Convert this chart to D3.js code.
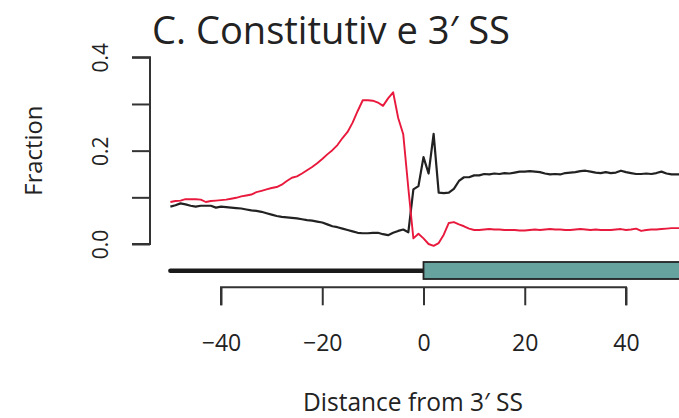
<!DOCTYPE html>
<html>
<head>
<meta charset="utf-8">
<script src="https://cdn.jsdelivr.net/npm/d3@7"></script>
<style>
  body { margin: 0; background: #fff; }
  svg { display: block; font-family: "Open Sans", "Noto Sans", sans-serif; }
</style>
</head>
<body>
<svg id="chart"></svg>
<script>
// positions relative to the 3' splice site
const positions = d3.range(-50, 52);

// black series (-50 .. 51)
const blackValues = [
  0.080, 0.083, 0.087, 0.085, 0.082, 0.080, 0.082, 0.082, 0.082, 0.078,
  0.080, 0.079, 0.078, 0.077, 0.076, 0.074, 0.072, 0.071, 0.069, 0.066,
  0.063, 0.060, 0.058, 0.057, 0.056, 0.055, 0.053, 0.051, 0.050, 0.048,
  0.046, 0.042, 0.038, 0.036, 0.033, 0.030, 0.027, 0.024, 0.023, 0.023,
  0.024, 0.024, 0.021, 0.019, 0.024, 0.028, 0.031, 0.025, 0.117, 0.124,
  0.186, 0.151, 0.236, 0.110, 0.109, 0.110, 0.118, 0.135, 0.143, 0.143,
  0.147, 0.147, 0.150, 0.149, 0.151, 0.150, 0.152, 0.151, 0.153, 0.155,
  0.155, 0.156, 0.155, 0.154, 0.151, 0.149, 0.150, 0.149, 0.152, 0.153,
  0.154, 0.156, 0.157, 0.155, 0.153, 0.152, 0.154, 0.152, 0.153, 0.157,
  0.154, 0.152, 0.150, 0.150, 0.151, 0.150, 0.152, 0.155, 0.151, 0.149,
  0.149, 0.149
];

// red series (-50 .. 51)
const redValues = [
  0.090, 0.092, 0.093, 0.096, 0.096, 0.096, 0.095, 0.090, 0.092, 0.093,
  0.094, 0.095, 0.097, 0.099, 0.102, 0.104, 0.106, 0.111, 0.114, 0.117,
  0.120, 0.122, 0.127, 0.135, 0.142, 0.145, 0.151, 0.158, 0.165, 0.173,
  0.182, 0.192, 0.201, 0.212, 0.227, 0.240, 0.260, 0.285, 0.308, 0.308,
  0.307, 0.303, 0.296, 0.312, 0.325, 0.270, 0.235, 0.120, 0.012, 0.022,
  0.012, 0.000, -0.004, 0.002, 0.020, 0.045, 0.047, 0.042, 0.038, 0.033,
  0.030, 0.030, 0.031, 0.032, 0.031, 0.031, 0.030, 0.030, 0.030, 0.029,
  0.029, 0.030, 0.031, 0.030, 0.031, 0.032, 0.031, 0.031, 0.030, 0.030,
  0.031, 0.032, 0.031, 0.030, 0.031, 0.030, 0.030, 0.030, 0.031, 0.032,
  0.030, 0.031, 0.033, 0.028, 0.030, 0.031, 0.031, 0.032, 0.033, 0.034,
  0.034, 0.034
];

const xTicks = [-40, -20, 0, 20, 40];
const yTicks = [0, 0.1, 0.2, 0.3, 0.4];
const yTickLabels = ["0.0", "", "0.2", "", "0.4"];

// gene model: intron then exon
const intron = [-50, 0];
const exon = [0, 56];

const width = 679;
const height = 418;

const svg = d3.select("#chart")
    .attr("width", width)
    .attr("height", height);

const x = d3.scaleLinear()
    .domain([-40, 40])
    .range([221, 626]);

const y = d3.scaleLinear()
    .domain([0, 0.4])
    .range([244, 57.3]);

const axisColor = "#333";

// title
svg.append("text")
    .attr("x", 152)
    .attr("y", 43.5)
    .attr("font-size", "38px")
    .attr("fill", "#222")
    .attr("textLength", 358)
    .attr("lengthAdjust", "spacingAndGlyphs")
    .text("C. Constitutiv e 3\u2032 SS");

// y axis
const yAxis = svg.append("g")
    .attr("transform", "translate(150, 0)")
    .call(d3.axisLeft(y).tickValues(yTicks).tickSize(18).tickFormat((d, i) => yTickLabels[i]));

yAxis.select(".domain")
    .attr("d", `M-18,${y(0.4)}H0V${y(0)}H-18`)
    .attr("stroke", axisColor)
    .attr("stroke-width", 2);
yAxis.selectAll(".tick line").attr("stroke", axisColor).attr("stroke-width", 2);
yAxis.selectAll(".tick text")
    .attr("x", null)
    .attr("dy", null)
    .attr("text-anchor", "middle")
    .attr("transform", "translate(-42, 0) rotate(-90)")
    .attr("font-size", "21px")
    .attr("font-family", "\"Open Sans\", sans-serif")
    .attr("fill", "#222");

// x axis
const xAxis = svg.append("g")
    .attr("transform", "translate(0, 287.3)")
    .call(d3.axisBottom(x).tickValues(xTicks).tickSize(18).tickFormat(d => d < 0 ? "\u2212" + Math.abs(d) : d));

xAxis.select(".domain")
    .attr("d", `M${x(-40)},18V0H${x(40)}V18`)
    .attr("stroke", axisColor)
    .attr("stroke-width", 2);
xAxis.selectAll(".tick line").attr("stroke", axisColor).attr("stroke-width", 2);
xAxis.selectAll(".tick text")
    .attr("y", 64)
    .attr("dy", null)
    .attr("font-size", "23px")
    .attr("font-family", "\"Open Sans\", sans-serif")
    .attr("fill", "#222");

// axis labels
svg.append("text")
    .attr("transform", `translate(42, ${y(0.2)}) rotate(-90)`)
    .attr("text-anchor", "middle")
    .attr("font-size", "23px")
    .attr("fill", "#222")
    .attr("textLength", 90)
    .attr("lengthAdjust", "spacingAndGlyphs")
    .text("Fraction");

svg.append("text")
    .attr("x", 413)
    .attr("y", 411)
    .attr("text-anchor", "middle")
    .attr("font-size", "25px")
    .attr("fill", "#222")
    .attr("textLength", 220)
    .attr("lengthAdjust", "spacingAndGlyphs")
    .text("Distance from 3\u2032 SS");

// gene model
svg.append("line")
    .attr("x1", x(intron[0]))
    .attr("x2", x(intron[1]))
    .attr("y1", 270.7)
    .attr("y2", 270.7)
    .attr("stroke", "#1a1a1a")
    .attr("stroke-width", 4.5)
    .attr("stroke-linecap", "round");

svg.append("rect")
    .attr("x", x(exon[0]))
    .attr("y", 262)
    .attr("width", x(exon[1]) - x(exon[0]))
    .attr("height", 17)
    .attr("fill", "#66a29e")
    .attr("stroke", "#222")
    .attr("stroke-width", 1.8);

// series
const line = d3.line()
    .x((d, i) => x(positions[i]))
    .y(d => y(d));

svg.append("path")
    .datum(blackValues)
    .attr("fill", "none")
    .attr("stroke", "#222")
    .attr("stroke-width", 2.2)
    .attr("stroke-linejoin", "round")
    .attr("d", line);

svg.append("path")
    .datum(redValues)
    .attr("fill", "none")
    .attr("stroke", "#e8193c")
    .attr("stroke-width", 1.9)
    .attr("stroke-linejoin", "round")
    .attr("d", line);
</script>
</body>
</html>
